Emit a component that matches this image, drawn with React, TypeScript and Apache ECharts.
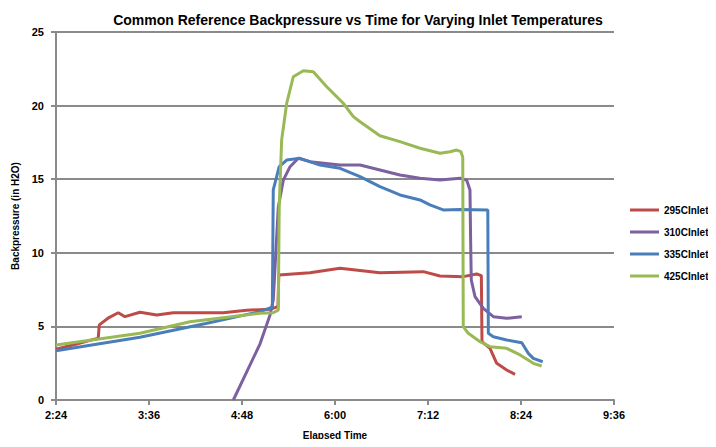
import React, { useEffect, useRef } from "react";
import * as echarts from "echarts";

const seriesNames = ["295CInlet", "310CInlet", "335CInlet", "425CInlet"];
const seriesColors = ["#be4b48", "#7d60a0", "#4a7ebb", "#98b954"];

// x = elapsed minutes, y = backpressure (in H2O)
const s295: [number, number][] = [
  [144, 3.45], [160, 3.8], [176.7, 4.2], [177.5, 5.1], [185, 5.6], [192.2, 5.93], [197.4, 5.66],
  [209, 5.96], [222, 5.77], [234.8, 5.93], [273.5, 5.93], [291.6, 6.1], [309.7, 6.16],
  [315.8, 6.34], [316.5, 8.5], [340.6, 8.65], [363.9, 8.95], [394.8, 8.65], [428.4, 8.72],
  [441.3, 8.42], [459.3, 8.38], [469.7, 8.56], [473.3, 8.45], [473.8, 3.96], [480, 3.51],
  [485.2, 2.49], [492.9, 2.04], [499.4, 1.74],
];
const s310: [number, number][] = [
  [281.3, 0], [301.9, 3.8], [309.7, 5.77], [312.2, 6.79], [316.1, 13.1], [320, 14.94],
  [325.2, 15.85], [331.6, 16.42], [340.6, 16.19], [363.9, 15.96], [379.4, 15.96],
  [394.8, 15.62], [410.3, 15.28], [425.8, 15.06], [441.3, 14.94], [456.8, 15.06],
  [461.9, 14.94], [464.5, 14.27], [465, 10.87], [465.5, 8.15], [468.4, 7.02],
  [474.8, 6.23], [482.6, 5.66], [492.9, 5.55], [504.6, 5.66],
];
const s335: [number, number][] = [
  [144, 3.35], [209, 4.26], [260, 5.2], [301.9, 6.0], [311.5, 6.3], [312.2, 14.27],
  [316.8, 15.85], [322.6, 16.3], [332.9, 16.42], [348.4, 15.96], [363.9, 15.74],
  [379.4, 15.17], [394.8, 14.49], [410.3, 13.93], [425.8, 13.59], [433.5, 13.25],
  [443.8, 12.91], [456.8, 12.95], [478.3, 12.91], [478.7, 4.53], [482.6, 4.3],
  [492.9, 4.08], [504.6, 3.89], [509.7, 3.17], [513.5, 2.83], [520.8, 2.6],
];
const s425: [number, number][] = [
  [144, 3.74], [209, 4.53], [247.7, 5.32], [301.9, 5.89], [312.2, 5.93], [316.1, 6.11],
  [316.8, 13.1], [318.7, 17.66], [322.6, 20.16], [327.7, 21.96], [335.5, 22.37],
  [343.2, 22.3], [353.6, 21.28], [366.4, 20.16], [374.2, 19.25], [379.4, 18.9],
  [394.8, 17.95], [410.3, 17.55], [425.8, 17.1], [441.3, 16.76], [449, 16.87],
  [454.2, 16.98], [457.5, 16.87], [458.9, 16.5], [459.3, 4.98], [463.2, 4.53],
  [472.3, 3.96], [480, 3.62], [492.9, 3.51], [503.3, 3.06], [513.5, 2.49], [520, 2.31],
];
const seriesData = [s295, s310, s335, s425];

const fmtTime = (m: number) => {
  const h = Math.floor(m / 60);
  const mm = Math.round(m - h * 60);
  return `${h}:${String(mm).padStart(2, "0")}`;
};

const FONT = "Liberation Sans";

export default function App() {
  const ref = useRef<HTMLDivElement>(null);
  useEffect(() => {
    if (!ref.current) return;
    const chart = echarts.init(ref.current, undefined, { renderer: "svg" });
    chart.setOption({
      animation: false,
      backgroundColor: "#ffffff",
      title: {
        text: "Common Reference Backpressure vs Time for Varying Inlet Temperatures",
        left: "center",
        top: 8,
        textStyle: { fontFamily: FONT, fontSize: 14, fontWeight: "bold", color: "#000" },
      },
      legend: {
        orient: "vertical",
        left: 625,
        top: 200,
        itemWidth: 29,
        itemHeight: 3,
        itemGap: 12,
        icon: "rect",
        textStyle: { fontFamily: FONT, fontSize: 10, fontWeight: "bold", color: "#000" },
        data: seriesNames,
      },
      grid: { left: 56, right: 102, top: 32, bottom: 47 },
      xAxis: {
        type: "value",
        min: 144,
        max: 576,
        interval: 72,
        name: "Elapsed Time",
        nameLocation: "middle",
        nameGap: 30,
        nameTextStyle: { fontFamily: FONT, fontSize: 10, fontWeight: "bold", color: "#000" },
        axisLine: { show: true, lineStyle: { color: "#8a8a8a", width: 2 } },
        axisTick: { show: true, length: 5, lineStyle: { color: "#8a8a8a", width: 2 } },
        axisLabel: {
          formatter: fmtTime,
          margin: 9,
          fontFamily: FONT,
          fontSize: 11,
          fontWeight: "bold",
          color: "#000",
        },
        splitLine: { show: false },
      },
      yAxis: {
        type: "value",
        min: 0,
        max: 25,
        interval: 5,
        name: "Backpressure (in H2O)",
        nameLocation: "middle",
        nameGap: 33,
        nameTextStyle: { fontFamily: FONT, fontSize: 10, fontWeight: "bold", color: "#000" },
        axisLine: { show: true, lineStyle: { color: "#8a8a8a", width: 2 } },
        axisTick: { show: true, length: 5, lineStyle: { color: "#8a8a8a", width: 2 } },
        axisLabel: {
          margin: 12,
          fontFamily: FONT,
          fontSize: 11,
          fontWeight: "bold",
          color: "#000",
        },
        splitLine: { show: true, lineStyle: { color: "#8a8a8a", width: 2 } },
      },
      series: seriesNames.map((name, i) => ({
        name,
        type: "line",
        data: seriesData[i],
        showSymbol: false,
        symbol: "none",
        color: seriesColors[i],
        lineStyle: { width: 3, color: seriesColors[i] },
      })),
    });
    return () => chart.dispose();
  }, []);
  return <div ref={ref} style={{ width: 716, height: 447, margin: -8 }} />;
}
